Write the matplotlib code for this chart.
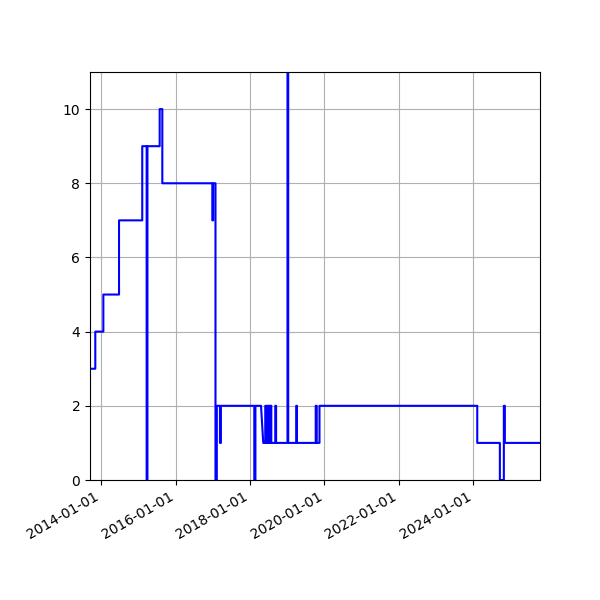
import matplotlib
matplotlib.use("Agg")
import matplotlib.pyplot as plt
import matplotlib.dates as mdates
import pandas as pd

# Vertices of the series (date, value)
dates = [
    "2013-09-12", "2013-11-03", "2013-11-03", "2014-01-21", "2014-01-21",
    "2014-06-24", "2014-06-24", "2015-02-07", "2015-02-07", "2015-03-22",
    "2015-03-22", "2015-03-30", "2015-03-30", "2015-07-28", "2015-07-28",
    "2015-08-23", "2015-08-23", "2016-12-26", "2016-12-26", "2017-01-03",
    "2017-01-03", "2017-01-26", "2017-01-26", "2017-02-08", "2017-02-08",
    "2017-03-11", "2017-03-11", "2017-03-20", "2017-03-20", "2018-02-11",
    "2018-02-11", "2018-02-22", "2018-02-22", "2018-04-18", "2018-05-10",
    "2018-05-30", "2018-05-30", "2018-06-06", "2018-06-06", "2018-06-13",
    "2018-06-13", "2018-06-20", "2018-06-20", "2018-06-27", "2018-06-27",
    "2018-07-04", "2018-07-04", "2018-07-11", "2018-07-11", "2018-07-18",
    "2018-07-18", "2018-07-21", "2018-07-21", "2018-07-28", "2018-07-28",
    "2018-09-05", "2018-09-05", "2018-09-13", "2018-09-13", "2019-01-03",
    "2019-01-03", "2019-01-10", "2019-01-10", "2019-03-30", "2019-03-30",
    "2019-04-06", "2019-04-06", "2019-10-07", "2019-10-07", "2019-10-17",
    "2019-10-17", "2019-11-13", "2019-11-13", "2024-02-09", "2024-02-09",
    "2024-09-18", "2024-09-18", "2024-10-27", "2024-10-27", "2024-11-06",
    "2024-11-06", "2025-10-17",
]
values = [
    3, 3, 4, 4, 5,
    5, 7, 7, 9, 9,
    0, 0, 9, 9, 10,
    10, 8, 8, 7, 7,
    8, 8, 0, 0, 2,
    2, 1, 1, 2, 2,
    0, 0, 2, 2, 1,
    1, 2, 2, 1, 1,
    2, 2, 1, 1, 2,
    2, 1, 1, 2, 2,
    1, 1, 2, 2, 1,
    1, 2, 2, 1, 1,
    11, 11, 1, 1, 2,
    2, 1, 1, 2, 2,
    1, 1, 2, 2, 1,
    1, 0, 0, 2, 2,
    1, 1,
]

x = pd.to_datetime(dates)

fig = plt.figure(figsize=(6, 6), dpi=100)
ax = fig.add_axes([0.15, 0.2, 0.75, 0.68])
ax.plot(x, values, color="blue", linewidth=1.5)
ax.set_xlim(x[0], x[-1])
ax.set_ylim(0, 11)
ax.set_yticks([0, 2, 4, 6, 8, 10])
ax.xaxis.set_major_locator(mdates.YearLocator(2))
ax.xaxis.set_major_formatter(mdates.DateFormatter("%Y-%m-%d"))
for lbl in ax.get_xticklabels():
    lbl.set_rotation(30)
    lbl.set_ha("right")
ax.grid(True)
fig.savefig("out.png", dpi=100)
